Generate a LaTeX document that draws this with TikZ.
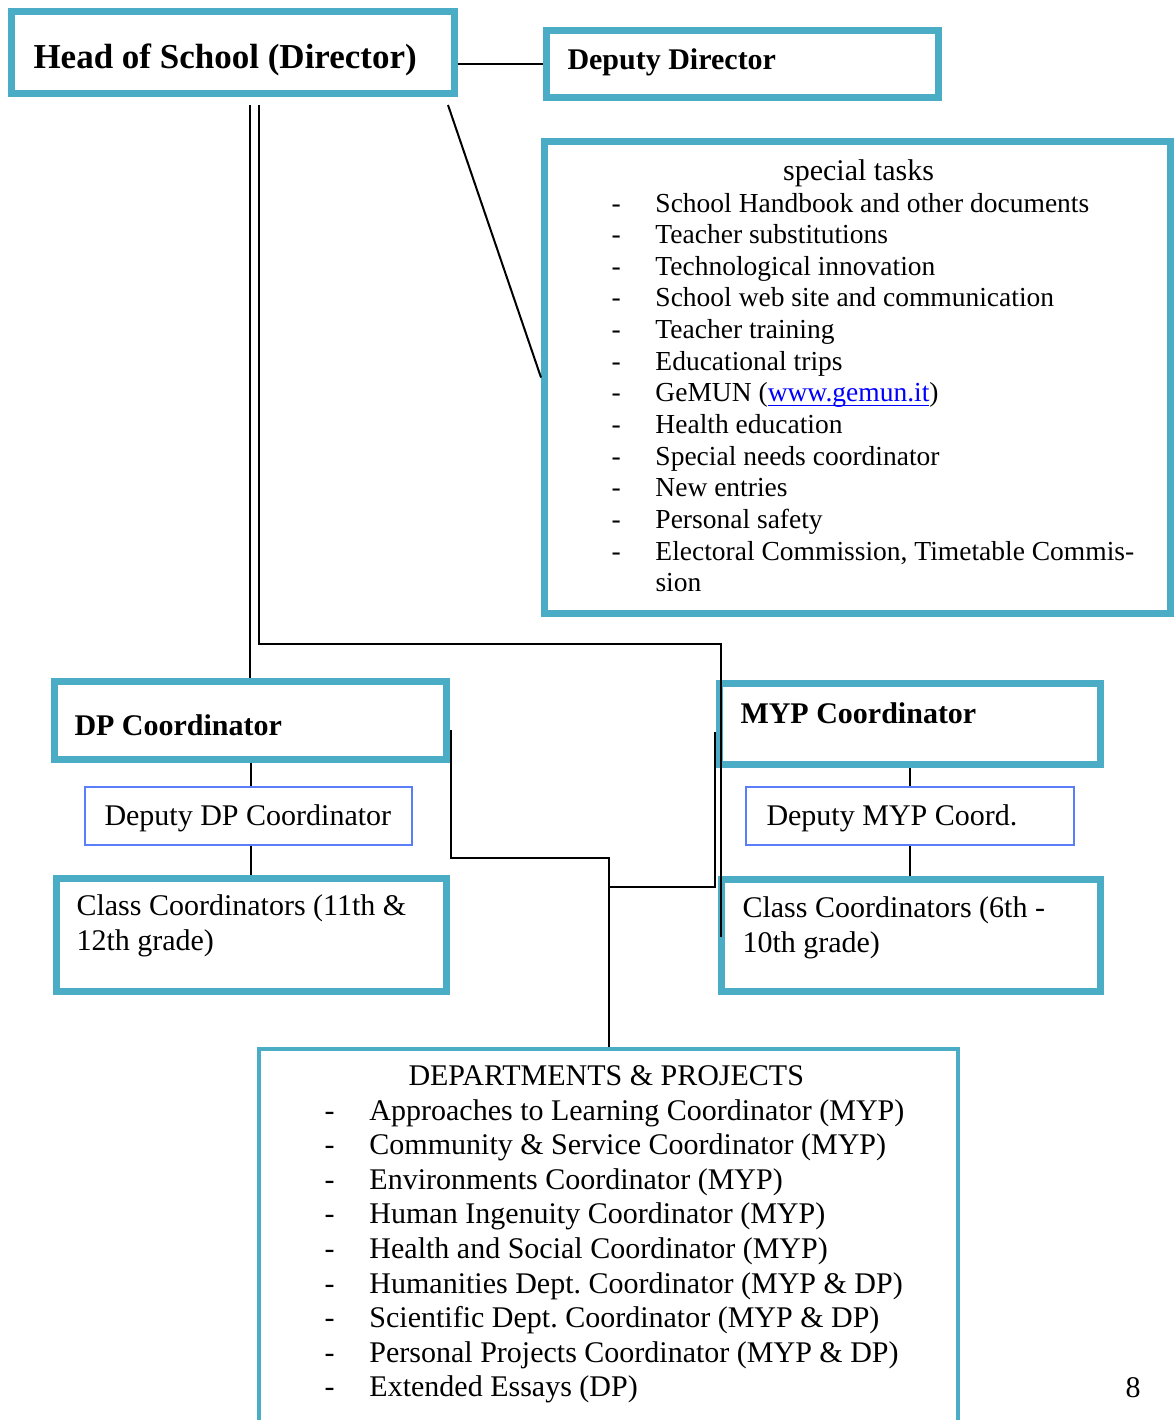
\documentclass[tikz,border=0pt]{standalone}
\usepackage{fontspec}
\setmainfont{Liberation Serif}
\frenchspacing
\definecolor{boxteal}{RGB}{75,172,198}
\definecolor{boxblue}{RGB}{90,125,250}
\definecolor{linkblue}{RGB}{0,0,255}
\newcommand{\pxu}{0.4pt}
\newcommand{\dashitem}[1]{\makebox[#1][l]{-}}

\begin{document}
\begin{tikzpicture}[x=0.4pt, y=-0.4pt,
        tealbox/.style = {draw=boxteal, line width=2.8pt, inner sep=0pt},
        thinbox/.style = {draw=boxblue, line width=0.6pt, inner sep=0pt},
        deptbox/.style = {draw=boxteal, line width=1.4pt, inner sep=0pt},
        txt/.style = {anchor=base west, inner sep=0pt, font=\fontsize{12}{14.2}\selectfont},
        conn/.style = {draw=black, line width=0.8pt}]
            \useasboundingbox (0,0) rectangle (1174,1420);
            \clip (0,0) rectangle (1174,1420);

            \node[tealbox, minimum width=442.5*\pxu, minimum height=82*\pxu] (head) at (232.75,52.5) {};
            \node[tealbox, minimum width=392*\pxu, minimum height=67*\pxu] (dd) at (742.5,64) {};
            \node[tealbox, minimum width=626*\pxu, minimum height=472*\pxu] (tasks) at (857.5,377.5) {};
            \node[tealbox, minimum width=392*\pxu, minimum height=78*\pxu] (dp) at (250.5,720.5) {};
            \node[thinbox, minimum width=327*\pxu, minimum height=58*\pxu] (ddp) at (248.5,816) {};
            \node[tealbox, minimum width=390*\pxu, minimum height=113*\pxu] (cdp) at (251.5,935) {};
            \node[tealbox, minimum width=381*\pxu, minimum height=81*\pxu] (myp) at (910,724) {};
            \node[thinbox, minimum width=328*\pxu, minimum height=58*\pxu] (dmyp) at (910,816) {};
            \node[tealbox, minimum width=379*\pxu, minimum height=112*\pxu] (cmyp) at (911,935.5) {};
            \node[deptbox, minimum width=699*\pxu, minimum height=401*\pxu] (dept) at (608.5,1249.5) {};

            \node[txt, font=\fontsize{14}{16}\selectfont\bfseries] (headtxt) at (33,68) {Head of School (Director)};
            \node[txt, font=\fontsize{12}{14}\selectfont\bfseries] (ddtxt) at (567,69) {Deputy Director};
            \node[txt, anchor=base] (taskstitle) at (858.5,180) {special tasks};
            \node[txt, font=\fontsize{11}{12.66}\selectfont, text width=560*\pxu, align=flush left] (tasklist) at (611,212)
                {\dashitem{17.6pt}School Handbook and other documents\\
                 \dashitem{17.6pt}Teacher substitutions\\
                 \dashitem{17.6pt}Technological innovation\\
                 \dashitem{17.6pt}School web site and communication\\
                 \dashitem{17.6pt}Teacher training\\
                 \dashitem{17.6pt}Educational trips\\
                 \dashitem{17.6pt}GeMUN ({\color{linkblue}\underline{\smash{www.gemun.it}}})\\
                 \dashitem{17.6pt}Health education\\
                 \dashitem{17.6pt}Special needs coordinator\\
                 \dashitem{17.6pt}New entries\\
                 \dashitem{17.6pt}Personal safety\\
                 \dashitem{17.6pt}Electoral Commission, Timetable Commis-\\
                 \hspace*{17.6pt}sion};
            \node[txt, font=\fontsize{12}{14}\selectfont\bfseries] (dptxt) at (74,735) {DP Coordinator};
            \node[txt] (ddptxt) at (104,825) {Deputy DP Coordinator};
            \node[txt, text width=380*\pxu, align=flush left] (cdptxt) at (76,915) {Class Coordinators (11th \&\\ 12th grade)};
            \node[txt, font=\fontsize{12}{14}\selectfont\bfseries] (myptxt) at (740,723) {MYP Coordinator};
            \node[txt] (dmyptxt) at (766,825) {Deputy MYP Coord.};
            \node[txt, text width=350*\pxu, align=flush left] (cmyptxt) at (742,917) {Class Coordinators (6th -\\ 10th grade)};
            \node[txt] (depttitle) at (408,1085) {DEPARTMENTS \& PROJECTS};
            \node[txt, font=\fontsize{12}{13.84}\selectfont, text width=620*\pxu, align=flush left] (deptlist) at (324,1120)
                {\dashitem{18pt}Approaches to Learning Coordinator (MYP)\\
                 \dashitem{18pt}Community \& Service Coordinator (MYP)\\
                 \dashitem{18pt}Environments Coordinator (MYP)\\
                 \dashitem{18pt}Human Ingenuity Coordinator (MYP)\\
                 \dashitem{18pt}Health and Social Coordinator (MYP)\\
                 \dashitem{18pt}Humanities Dept. Coordinator (MYP \& DP)\\
                 \dashitem{18pt}Scientific Dept. Coordinator (MYP \& DP)\\
                 \dashitem{18pt}Personal Projects Coordinator (MYP \& DP)\\
                 \dashitem{18pt}Extended Essays (DP)};
            \node[txt] (pagenum) at (1125,1397) {8};

            \coordinate (hsl) at (250,105);
            \coordinate (hsr) at (259,105);
            \coordinate (hsd) at (448,105);
            \coordinate (mypc) at (721,644);
            \coordinate (mypend) at (721,937);
            \coordinate (dpc) at (451,730);
            \coordinate (dpj) at (451,858);
            \coordinate (mypj) at (715,732);
            \coordinate (deptj) at (608.5,887);

            \draw[conn] (head.east |- dd.west) -- (dd.west);
            \draw[conn] (hsd) -- (tasks.west);
            \draw[conn] (hsl) -- (hsl |- dp.north);
            \draw[conn] (hsr) |- (mypc) -- (mypend);
            \draw[conn] (dpc) -- (dpj) -| (dept.north);
            \draw[conn] (mypj) |- (deptj);
            \draw[conn] (dp.south) -- (dp.south |- ddp.north);
            \draw[conn] (ddp.south -| dp.south) -- (cdp.north -| dp.south);
            \draw[conn] (myp.south) -- (myp.south |- dmyp.north);
            \draw[conn] (dmyp.south -| myp.south) -- (cmyp.north -| myp.south);
        \end{tikzpicture}
\end{document}
